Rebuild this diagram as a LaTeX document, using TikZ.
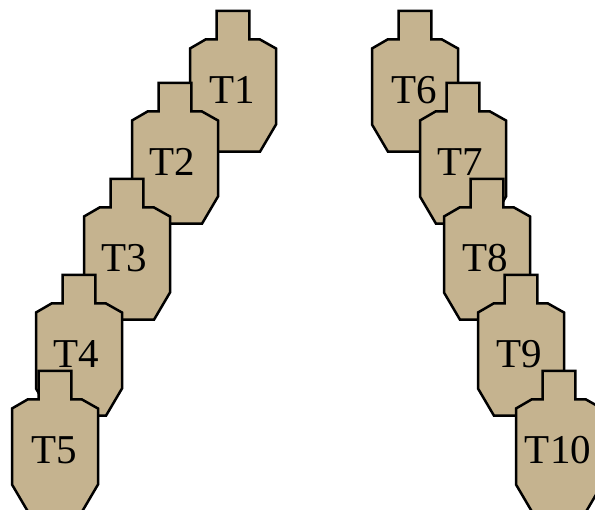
\documentclass[tikz,border=0pt]{standalone}
\usepackage{fontspec}
\setmainfont{Liberation Serif}
\definecolor{tan}{HTML}{C5B38F}
\tikzset{
  silhouette/.style={draw=black,fill=tan,line width=2.5pt,line join=miter},
  tlabel/.style={inner sep=0pt,font=\fontsize{41}{41}\selectfont,text=black},
  pics/target/.style 2 args={code={
    \path[silhouette] (-16.3,0) -- (16.3,0) -- (16.3,28.5) -- (27,28.5) -- (43,37.5) -- (43,113.5)
      -- (27,140.7) -- (-27,140.7) -- (-43,113.5) -- (-43,37.5) -- (-27.5,28.5) -- (-16.3,28.5) -- cycle;
    \node[tlabel,anchor=base] (-label) at (#2,93) {#1};
  }}
}
\begin{document}
\begin{tikzpicture}[x=1pt,y=-1pt]
  \useasboundingbox (0,0) rectangle (595,510);
  \clip (0,0) rectangle (595,510);
  \pic (t1) at (233,11) {target={T1}{-1}};
  \pic (t2) at (175,83) {target={T2}{-3}};
  \pic (t3) at (127,179) {target={T3}{-3}};
  \pic (t4) at (79,275) {target={T4}{-3}};
  \pic (t5) at (55,371) {target={T5}{-1}};
  \pic (t6) at (415,11) {target={T6}{-1}};
  \pic (t7) at (463,83) {target={T7}{-3}};
  \pic (t8) at (487,179) {target={T8}{-2}};
  \pic (t9) at (521,275) {target={T9}{-2}};
  \pic (t10) at (559,371) {target={T10}{-1}};
\end{tikzpicture}
\end{document}
